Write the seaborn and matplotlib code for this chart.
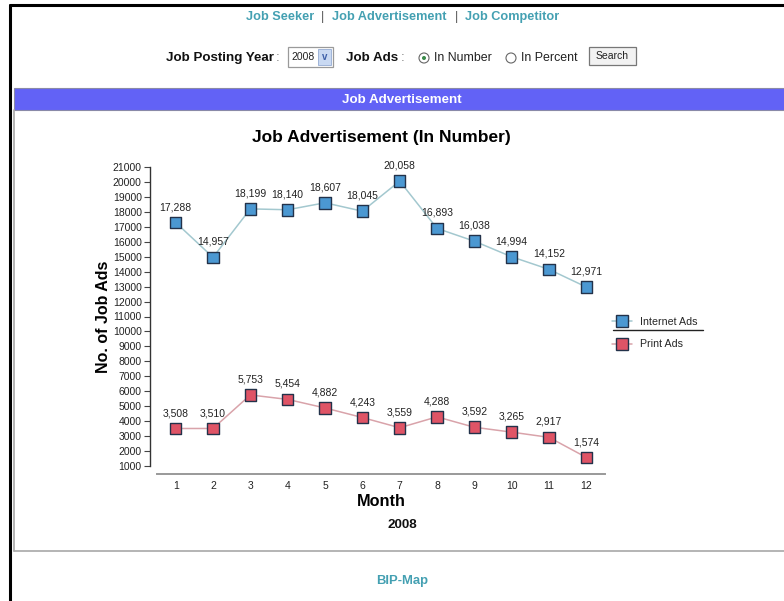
import matplotlib
matplotlib.use("Agg")
import matplotlib.pyplot as plt
import seaborn as sns
import pandas as pd
from matplotlib.lines import Line2D
from matplotlib.patches import Rectangle, Ellipse

# ---------------- data ----------------
months = ["1", "2", "3", "4", "5", "6", "7", "8", "9", "10", "11", "12"]
internet_ads = [17288, 14957, 18199, 18140, 18607, 18045, 20058, 16893, 16038, 14994, 14152, 12971]
print_ads = [3508, 3510, 5753, 5454, 4882, 4243, 3559, 4288, 3592, 3265, 2917, 1574]
series_names = ["Internet Ads", "Print Ads"]
y_ticks = list(range(1000, 21001, 1000))
year_label = "2008"

W, H = 784, 601
sns.set_theme(style="white")
plt.rcParams["font.family"] = ["Liberation Sans", "DejaVu Sans"]

fig = plt.figure(figsize=(W / 100, H / 100), dpi=100)
fig.patch.set_facecolor("white")


def fx(x):
    return x / W


def fy(y):
    return 1 - y / H


def ftext(x, y, s, **kw):
    kw.setdefault("ha", "center")
    kw.setdefault("va", "center")
    fig.text(fx(x), fy(y), s, **kw)


def fline(x0, y0, x1, y1, **kw):
    fig.add_artist(Line2D([fx(x0), fx(x1)], [fy(y0), fy(y1)], transform=fig.transFigure, **kw))


def frect(x0, y0, x1, y1, **kw):
    fig.add_artist(Rectangle((fx(x0), fy(y1)), fx(x1) - fx(x0), fy(y0) - fy(y1),
                             transform=fig.transFigure, **kw))


teal = "#44a0b2"
# outer page frame
fline(10, 5, W, 5, color="black", lw=2.2)
fline(10, 5, 10, H, color="black", lw=2.2)

# navigation
ftext(280, 17, "Job Seeker", color=teal, fontsize=9.2, fontweight="bold")
ftext(323, 17, "|", color="#555555", fontsize=9.2)
ftext(389, 17, "Job Advertisement", color=teal, fontsize=9.2, fontweight="bold")
ftext(456, 17, "|", color="#555555", fontsize=9.2)
ftext(512, 17, "Job Competitor", color=teal, fontsize=9.2, fontweight="bold")

# form row
ftext(274, 58, "Job Posting Year", ha="right", fontsize=9.6, fontweight="bold", color="#111111")
ftext(276, 58, ":", ha="left", fontsize=9.6, color="#777777")
frect(288, 47, 333, 67, facecolor="white", edgecolor="#9a9a9a", lw=0.9)
ftext(291, 57, "2008", ha="left", fontsize=7.5, color="#222222")
frect(318, 49, 331, 65, facecolor="#c9d9f2", edgecolor="#9fb4d8", lw=0.7)
ftext(324.5, 57, "v", fontsize=7, fontweight="bold", color="#3d5fa8")
ftext(398, 58, "Job Ads", ha="right", fontsize=9.6, fontweight="bold", color="#111111")
ftext(401, 58, ":", ha="left", fontsize=9.6, color="#777777")
fig.add_artist(Ellipse((fx(424), fy(58)), 10 / W, 10 / H, transform=fig.transFigure,
                       facecolor="white", edgecolor="#666666", lw=0.8))
fig.add_artist(Ellipse((fx(424), fy(58)), 4 / W, 4 / H, transform=fig.transFigure,
                       facecolor="#3a8a4a", edgecolor="none"))
ftext(434, 58, "In Number", ha="left", fontsize=8.9, color="#222222")
fig.add_artist(Ellipse((fx(511), fy(58)), 10 / W, 10 / H, transform=fig.transFigure,
                       facecolor="white", edgecolor="#666666", lw=0.8))
ftext(521, 58, "In Percent", ha="left", fontsize=8.9, color="#222222")
frect(589, 47, 636, 65, facecolor="#f2f2f2", edgecolor="#777777", lw=0.9)
ftext(612.5, 56, "Search", fontsize=7.5, color="#222222")

# header bar + panel
frect(14, 88, W + 2, 110, facecolor="#6262f6", edgecolor="#8a8aa8", lw=0.8)
ftext(402, 100, "Job Advertisement", color="white", fontsize=9.6, fontweight="bold")
fline(14, 110, 14, 551, color="#a8a8a8", lw=1.2)
fline(14, 551, W, 551, color="#a8a8a8", lw=1.2)

ftext(402, 581, "BIP-Map", color=teal, fontsize=9.4, fontweight="bold")

# ---------------- chart ----------------
df = pd.DataFrame({
    "pos": list(range(len(months))) * 2,
    "Month": months * 2,
    "value": internet_ads + print_ads,
    "series": [series_names[0]] * len(months) + [series_names[1]] * len(months),
})

line_colors = {series_names[0]: "#a3c8cf", series_names[1]: "#d9a3aa"}
face_colors = {series_names[0]: "#4b98d2", series_names[1]: "#df5466"}
edge_color = "#23324a"

ax = fig.add_axes([fx(157), fy(466), fx(605) - fx(157), fy(167) - fy(466)])
sns.lineplot(data=df, x="pos", y="value", hue="series", palette=line_colors,
             linewidth=1.1, ax=ax, legend=False, zorder=2)
sns.scatterplot(data=df, x="pos", y="value", hue="series", palette=face_colors,
                marker="s", s=70, edgecolor=edge_color, linewidth=1.0,
                ax=ax, legend=False, zorder=3)

for _, r in df.iterrows():
    ax.annotate(f"{r['value']:,}", (r["pos"], r["value"]), xytext=(0, 7.5),
                textcoords="offset points", ha="center", va="bottom",
                fontsize=7.5, color="#222222")

ax.set_xlim(-0.5, len(months) - 0.5)
ax.set_ylim(1000, 21000)
ax.set_yticks(y_ticks)
ax.set_yticklabels([str(v) for v in y_ticks])
ax.set_xticks(range(len(months)))
ax.set_xticklabels(months)
ax.set_xticks([i - 0.5 for i in range(len(months) + 1)], minor=True)
ax.tick_params(axis="x", which="major", length=0, pad=5, labelsize=7.5, labelcolor="#222222")
ax.tick_params(axis="x", which="minor", length=8, direction="inout", color="#999999", width=0.9)
ax.tick_params(axis="y", which="major", length=4, direction="out", color="#444444",
               width=0.8, pad=2, left=True, labelsize=7.5, labelcolor="#222222")

for s in ["top", "right"]:
    ax.spines[s].set_visible(False)
ax.spines["left"].set_position(("outward", 5))
ax.spines["left"].set_color("#333333")
ax.spines["left"].set_linewidth(1.0)
ax.spines["bottom"].set_position(("outward", 6))
ax.spines["bottom"].set_color("#999999")
ax.spines["bottom"].set_linewidth(1.4)
ax.set_facecolor("none")

ax.set_xlabel("Month", fontsize=11.7, fontweight="bold", color="black", labelpad=2)
ax.set_ylabel("No. of Job Ads", fontsize=11.5, fontweight="bold", color="black", labelpad=1)
ax.set_title("Job Advertisement (In Number)", fontsize=12.5, fontweight="bold",
             color="black", pad=18)

ftext(402, 525, year_label, fontsize=9.7, fontweight="bold", color="#111111")

# legend
handles = [Line2D([], [], color=line_colors[n], marker="s", markersize=8,
                  markerfacecolor=face_colors[n], markeredgecolor=edge_color,
                  markeredgewidth=1.0, lw=1.1) for n in series_names]
leg = fig.legend(handles, series_names, loc="upper left",
                 bbox_to_anchor=(fx(612), fy(317)), frameon=False,
                 fontsize=7.7, handlelength=1.9, handletextpad=0.75,
                 labelspacing=1.15, borderaxespad=0, borderpad=0)
fline(613, 330, 703, 330, color="#222222", lw=1.0)

fig.savefig("out.png", dpi=100)
